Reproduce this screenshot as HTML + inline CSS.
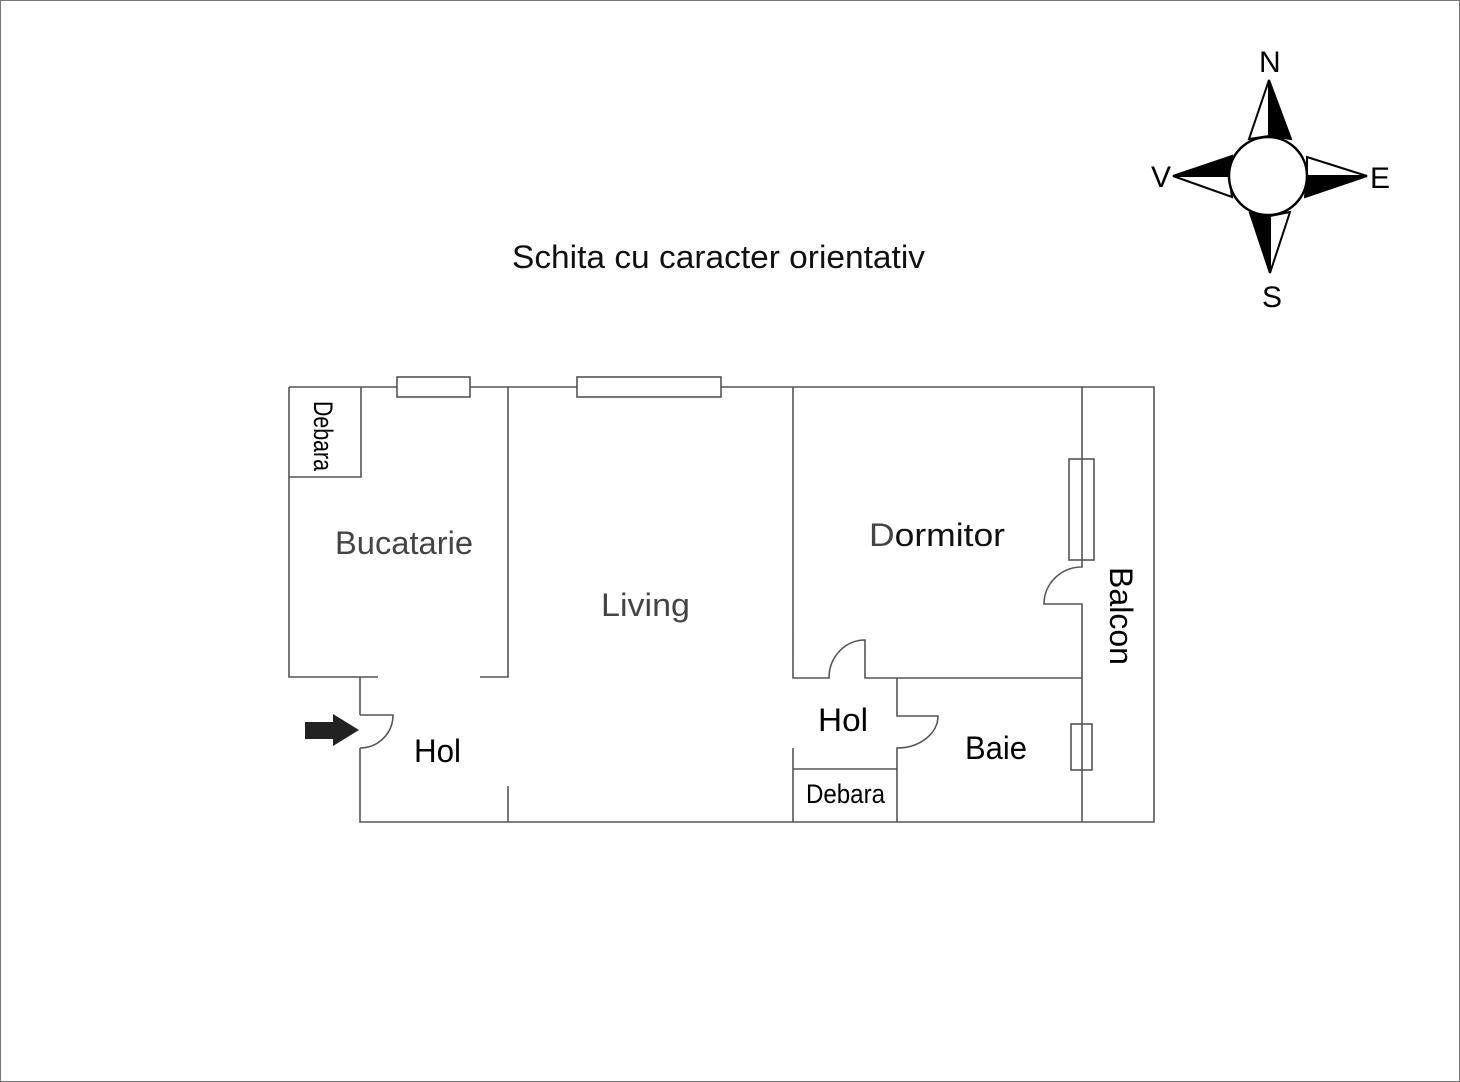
<!DOCTYPE html>
<html><head><meta charset="utf-8"><style>
html,body{margin:0;padding:0;background:#fff}
svg{display:block}
text{font-family:"Liberation Sans",sans-serif}
</style></head><body>
<svg width="1460" height="1082" viewBox="0 0 1460 1082" xmlns="http://www.w3.org/2000/svg">
<rect x="0.5" y="0.5" width="1459" height="1081" fill="#fff" stroke="#777" stroke-width="1"/>
<text x="512" y="268" font-size="32" fill="#111" textLength="413" lengthAdjust="spacingAndGlyphs">Schita cu caracter orientativ</text>
<!-- compass -->
<g stroke="#000" stroke-width="2" stroke-linejoin="miter">
<polygon points="1269,80 1249,139 1269,136" fill="#fff"/>
<polygon points="1269,80 1269,136 1291,139" fill="#000"/>
<polygon points="1367,176 1307,157 1307,176" fill="#fff"/>
<polygon points="1367,176 1307,176 1305,197" fill="#000"/>
<polygon points="1173,176 1232,156 1229,176" fill="#000"/>
<polygon points="1173,176 1229,176 1232,197" fill="#fff"/>
<polygon points="1270,273 1250,213 1270,216" fill="#000"/>
<polygon points="1270,273 1270,216 1290,212" fill="#fff"/>
<circle cx="1268" cy="176" r="39" fill="#fff" stroke-width="2.5"/>
</g>
<text x="1259" y="72" font-size="30">N</text>
<text x="1262" y="307" font-size="30">S</text>
<text x="1151" y="187" font-size="30">V</text>
<text x="1370" y="188" font-size="30">E</text>
<!-- walls -->
<g stroke="#555" stroke-width="1.6" fill="none">
<path d="M289,387 H1154 V822 H360 V748 M360,715 V677 M289,387 V677 H378 M480,677 H508 V387"/>
<path d="M508,786 V822"/>
<path d="M361,387 V477 H289"/>
<path d="M360,715 H393 A33,33 0 0 1 360,748"/>
<path d="M793,387 V678 H829 A36,38 0 0 1 865,640 V678 H1082"/>
<path d="M793,748 V822"/>
<path d="M897,678 V716 H938 A41,32 0 0 1 897,748 V822"/>
<path d="M793,769 H897"/>
<path d="M1082,387 V567 A38,37 0 0 0 1044,604 H1082 V822"/>
<rect x="397" y="377" width="73" height="20" fill="#fff"/>
<rect x="577" y="377" width="144" height="20" fill="#fff"/>
<rect x="1069" y="459" width="25" height="101"/>
<rect x="1071" y="724" width="21" height="46"/>
</g>
<polygon points="305,722 333,722 333,714 359,730 333,746 333,739 305,739" fill="#222"/>
<text x="335" y="554" font-size="32" fill="#444" textLength="138" lengthAdjust="spacingAndGlyphs">Bucatarie</text>
<text x="601" y="616" font-size="32" fill="#444" textLength="89" lengthAdjust="spacingAndGlyphs">Living</text>
<text x="869" y="546" font-size="32" fill="#111" textLength="136" lengthAdjust="spacingAndGlyphs"><tspan fill="#444">D</tspan>ormitor</text>
<text x="414" y="762" font-size="32" fill="#000" textLength="47" lengthAdjust="spacingAndGlyphs">Hol</text>
<text x="818" y="731" font-size="32" fill="#000" textLength="50" lengthAdjust="spacingAndGlyphs">Hol</text>
<text x="965" y="759" font-size="32" fill="#000" textLength="62" lengthAdjust="spacingAndGlyphs">Baie</text>
<text x="806" y="803" font-size="27" fill="#000" textLength="79" lengthAdjust="spacingAndGlyphs">Debara</text>
<text transform="translate(314,401) rotate(90)" font-size="27" fill="#000" textLength="70" lengthAdjust="spacingAndGlyphs">Debara</text>
<text transform="translate(1110,567) rotate(90)" font-size="32" fill="#000" textLength="98" lengthAdjust="spacingAndGlyphs">Balcon</text>
</svg>
</body></html>
